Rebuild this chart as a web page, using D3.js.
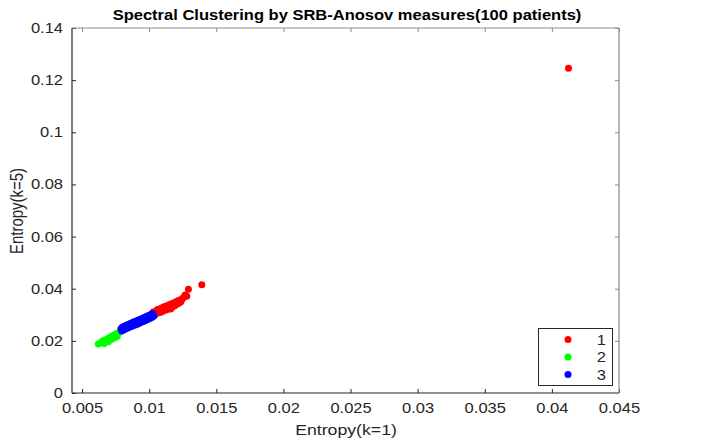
<!DOCTYPE html>
<html><head><meta charset="utf-8">
<script src="https://cdn.jsdelivr.net/npm/d3@7"></script>
<style>body{margin:0;background:#fff}svg{display:block}text{font-family:"Liberation Sans",Arial,sans-serif}</style>
</head><body><svg id="c" width="723" height="444"></svg>
<script>
const title = "Spectral Clustering by SRB-Anosov measures(100 patients)";
const xLabel = "Entropy(k=1)";
const yLabel = "Entropy(k=5)";
const xTicks = [0.005,0.01,0.015,0.02,0.025,0.03,0.035,0.04,0.045];
const yTicks = [0,0.02,0.04,0.06,0.08,0.1,0.12,0.14];
const clusterNames = ["1","2","3"];
const clusterColors = ["#ff0000","#00ff00","#0000ff"];
const cluster1 = [[0.01020,0.0300],[0.01030,0.0311],[0.01040,0.0298],[0.01048,0.0314],[0.01055,0.0305],[0.01062,0.0320],[0.01070,0.0308],[0.01078,0.0322],[0.01085,0.0310],[0.01092,0.0326],[0.01100,0.0314],[0.01108,0.0330],[0.01115,0.0317],[0.01122,0.0333],[0.01130,0.0319],[0.01138,0.0336],[0.01145,0.0324],[0.01152,0.0339],[0.01160,0.0322],[0.01168,0.0342],[0.01175,0.0331],[0.01182,0.0345],[0.01190,0.0335],[0.01198,0.0349],[0.01205,0.0340],[0.01212,0.0353],[0.01220,0.0344],[0.01228,0.0357],[0.01236,0.0350],[0.01245,0.0360],[0.01255,0.0366],[0.01268,0.0376],[0.01280,0.0371],[0.01292,0.0398],[0.01392,0.0415],[0.04124,0.1246]];
const cluster2 = [[0.00621,0.0188],[0.00640,0.0193],[0.00652,0.0199],[0.00665,0.0190],[0.00672,0.0203],[0.00688,0.0207],[0.00695,0.0197],[0.00702,0.0211],[0.00710,0.0215],[0.00718,0.0205],[0.00725,0.0218],[0.00733,0.0221],[0.00740,0.0211],[0.00748,0.0224],[0.00755,0.0227],[0.00762,0.0217],[0.00770,0.0230],[0.00778,0.0234]];
const cluster3 = [[0.00790,0.0246],[0.00795,0.0238],[0.00800,0.0252],[0.00805,0.0241],[0.00810,0.0255],[0.00815,0.0244],[0.00820,0.0257],[0.00825,0.0246],[0.00830,0.0260],[0.00835,0.0248],[0.00840,0.0262],[0.00845,0.0251],[0.00850,0.0264],[0.00855,0.0253],[0.00860,0.0267],[0.00866,0.0255],[0.00872,0.0269],[0.00878,0.0258],[0.00884,0.0272],[0.00890,0.0260],[0.00896,0.0274],[0.00902,0.0263],[0.00908,0.0277],[0.00914,0.0265],[0.00920,0.0280],[0.00926,0.0268],[0.00932,0.0282],[0.00938,0.0271],[0.00944,0.0285],[0.00950,0.0273],[0.00956,0.0288],[0.00962,0.0276],[0.00968,0.0291],[0.00974,0.0279],[0.00980,0.0293],[0.00986,0.0282],[0.00992,0.0296],[0.00998,0.0285],[0.01004,0.0299],[0.01010,0.0288],[0.01016,0.0302],[0.01022,0.0291],[0.01028,0.0304],[0.01034,0.0295],[0.00905,0.0271],[0.00958,0.0283]];
const clusters = [cluster1, cluster2, cluster3];

const svg = d3.select("#c");
const L = 72, R = 619, T = 28, B = 393;
const SX = 1.18; // horizontal text stretch seen in the reference
const x = d3.scaleLinear().domain([0.00425, 0.045]).range([L, R]);
const y = d3.scaleLinear().domain([0, 0.14]).range([B, T]);
const axisCol = "#262626", boxCol = "#8c8c8c", fs = 14;
const ff = '"Liberation Sans",Arial,sans-serif';

// points
clusters.forEach((pts, i) => {
  svg.append("g").selectAll("circle").data(pts).join("circle")
    .attr("cx", d => x(d[0])).attr("cy", d => y(d[1])).attr("r", 3.5)
    .attr("fill", clusterColors[i]);
});

// axes
const fmt = d => d3.format("")(+d.toFixed(4));
const xa = svg.append("g").attr("transform", `translate(0,${B})`)
  .call(d3.axisBottom(x).tickValues(xTicks).tickSize(-4).tickPadding(10).tickFormat(fmt));
const ya = svg.append("g").attr("transform", `translate(${L},0)`)
  .call(d3.axisLeft(y).tickValues(yTicks).tickSize(-4).tickPadding(9).tickFormat(fmt));
const xt = svg.append("g").attr("transform", `translate(0,${T})`)
  .call(d3.axisTop(x).tickValues(xTicks).tickSize(-4).tickFormat(""));
const yr = svg.append("g").attr("transform", `translate(${R},0)`)
  .call(d3.axisRight(y).tickValues(yTicks).tickSize(-4).tickFormat(""));
[xa, ya].forEach(g => {
  g.select(".domain").attr("stroke", axisCol).attr("stroke-width", 1.2);
  g.selectAll(".tick line").attr("stroke", axisCol);
  g.selectAll(".tick text").attr("fill", axisCol).style("font-size", fs + "px").style("font-family", ff);
});
xa.selectAll(".tick text").attr("transform", `scale(${SX},1)`);
ya.selectAll(".tick text").attr("x", -9 / SX).attr("transform", `scale(${SX},1)`);
[xt, yr].forEach(g => {
  g.select(".domain").attr("stroke", boxCol).attr("stroke-width", 1.2);
  g.selectAll(".tick line").attr("stroke", boxCol);
});
xa.select(".domain").attr("d", `M${L},0H${R}`);
ya.select(".domain").attr("d", `M0,${T}V${B}`);
xt.select(".domain").attr("d", `M${L},0H${R}`);
yr.select(".domain").attr("d", `M0,${T}V${B}`);

// title and labels
svg.append("text").attr("transform", `translate(347,20) scale(${SX},1)`).attr("text-anchor", "middle")
  .style("font-size", "14px").style("font-weight", "bold").attr("fill", "#000").text(title);
svg.append("text").attr("transform", `translate(346,435) scale(${SX},1)`).attr("text-anchor", "middle")
  .style("font-size", "15px").attr("fill", axisCol).text(xLabel);
svg.append("text").attr("transform", `translate(23,211) rotate(-90) scale(1,${SX})`).attr("text-anchor", "middle")
  .style("font-size", "15px").attr("fill", axisCol).text(yLabel);

// legend
const lg = svg.append("g");
lg.append("rect").attr("x", 538.5).attr("y", 328.5).attr("width", 74).attr("height", 57)
  .attr("fill", "#fff").attr("stroke", axisCol).attr("stroke-width", 1);
clusterNames.forEach((n, i) => {
  const yy = 339.5 + i * 17.5;
  lg.append("circle").attr("cx", 568).attr("cy", yy).attr("r", 3.5).attr("fill", clusterColors[i]);
  lg.append("text").attr("transform", `translate(606,${yy + 5}) scale(${SX},1)`).attr("text-anchor", "end")
    .style("font-size", fs + "px").attr("fill", axisCol).text(n);
});
</script></body></html>
